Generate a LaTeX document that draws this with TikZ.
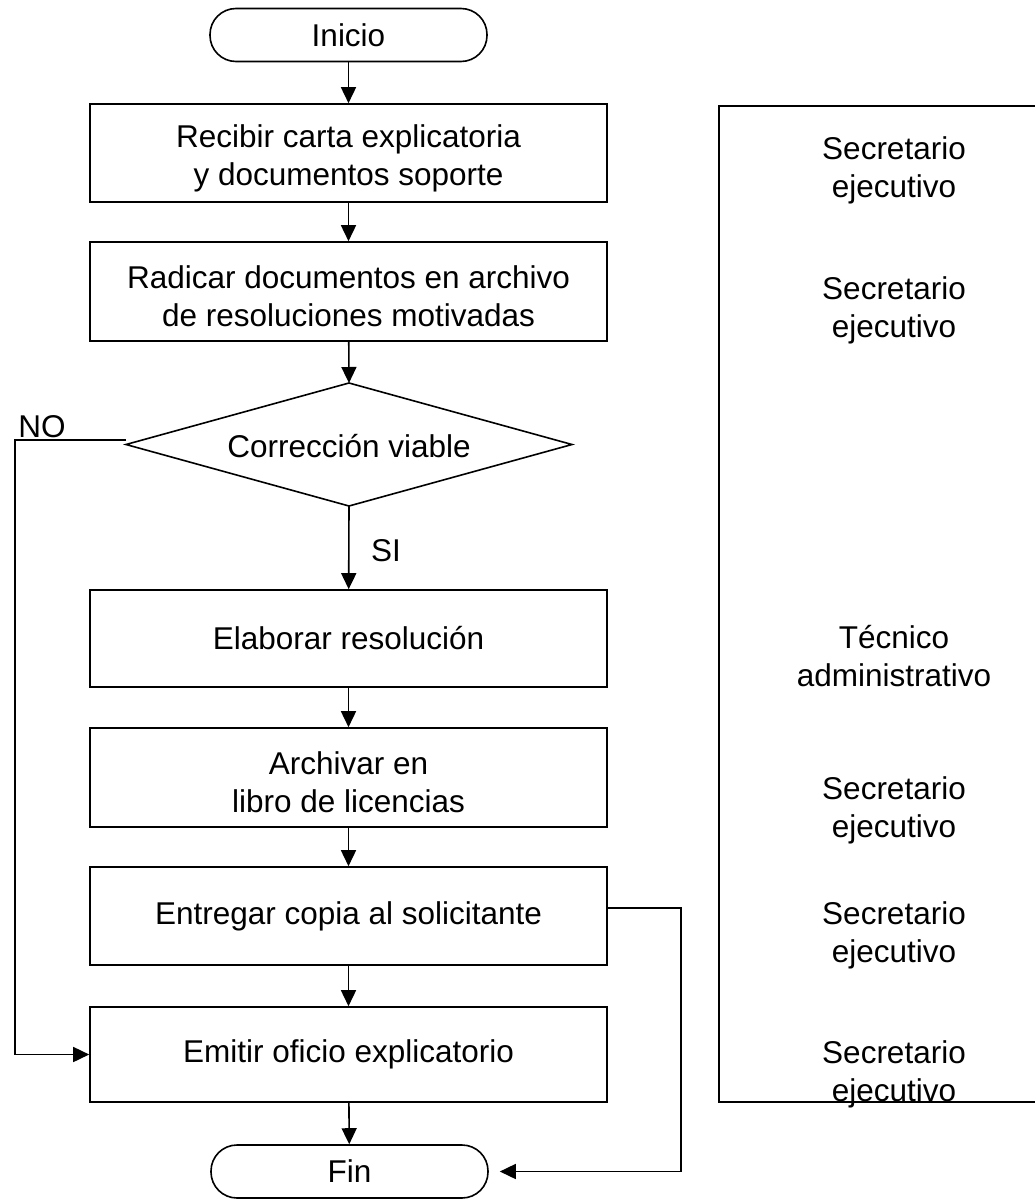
\documentclass[tikz,border=0pt]{standalone}
\usepackage{fontspec}
\setmainfont{Liberation Sans}
\usetikzlibrary{arrows.meta}
\begin{document}
\begin{tikzpicture}[x=1pt,y=-1pt,
  every node/.style={font=\fontsize{31.5}{38}\selectfont},
  proc/.style={draw,line width=1.6pt,minimum width=517pt,align=center,inner sep=0pt},
  term/.style={draw,line width=1.6pt,rounded corners=26pt,minimum width=277pt,minimum height=53pt,inner sep=0pt},
  arr/.style={line width=1.6pt,-{Triangle[length=16pt,width=15pt]}},
  conn/.style={line width=1.6pt},
  lane/.style={align=center,inner sep=0pt}
]
\useasboundingbox (0,0) rectangle (1034,1199);
\newcommand{\up}{\rule{0pt}{33pt}}

% main column
\node[term] (ini) at (348.5,35) {Inicio};
\node[proc,minimum height=98pt] (b1) at (348.5,153) {\up Recibir carta explicatoria\\y documentos soporte};
\node[proc,minimum height=99pt] (b2) at (348.5,291.5) {\up Radicar documentos en archivo\\de resoluciones motivadas};
% decision
\coordinate (dt) at (349,383);
\coordinate (db) at (349,506);
\coordinate (dl) at (126,444.5);
\coordinate (dr) at (572,444.5);
\draw[conn] (dt) -- (dr) -- (db) -- (dl) -- cycle;
\node (d) at (349,446) {Corrección viable};
\node[proc,minimum height=97pt] (b3) at (348.5,638.5) {Elaborar resolución};
\node[proc,minimum height=99pt] (b4) at (348.5,777.5) {\up Archivar en\\libro de licencias};
\node[proc,minimum height=98pt] (b5) at (348.5,916) {Entregar copia al solicitante};
\node[proc,minimum height=95pt] (b6) at (348.5,1054.5) {Emitir oficio explicatorio};
\node[term] (fin) at (349.5,1171.5) {Fin};

% labels
\node (si) at (386,551) {SI};
\node (no) at (42,427) {NO};

% connectors
\draw[arr] (ini) -- (b1);
\draw[arr] (b1) -- (b2);
\draw[arr] (b2) -- (dt);
\draw[arr] (db) -- (b3);
\draw[arr] (b3) -- (b4);
\draw[arr] (b4) -- (b5);
\draw[arr] (b5) -- (b6);
\draw[arr] (b6) -- (fin);
\coordinate (noc) at (15,440);
\draw[arr] (dl |- noc) -- (noc) |- (b6.west);
\coordinate (rc) at (681,908);
\draw[arr,shorten >=11pt] (b5.east |- rc) -- (rc) |- (fin.east);

% responsibility lane
\draw[conn] (1036,106) -- (719,106) -- (719,1102) -- (1036,1102);
\node[lane] (l1) at (894,170) {Secretario\\ejecutivo};
\node[lane] (l2) at (894,310) {Secretario\\ejecutivo};
\node[lane] (l3) at (894,656) {Técnico\\administrativo};
\node[lane] (l4) at (894,810) {Secretario\\ejecutivo};
\node[lane] (l5) at (894,935) {Secretario\\ejecutivo};
\node[lane] (l6) at (894,1074) {Secretario\\ejecutivo};
\end{tikzpicture}
\end{document}
